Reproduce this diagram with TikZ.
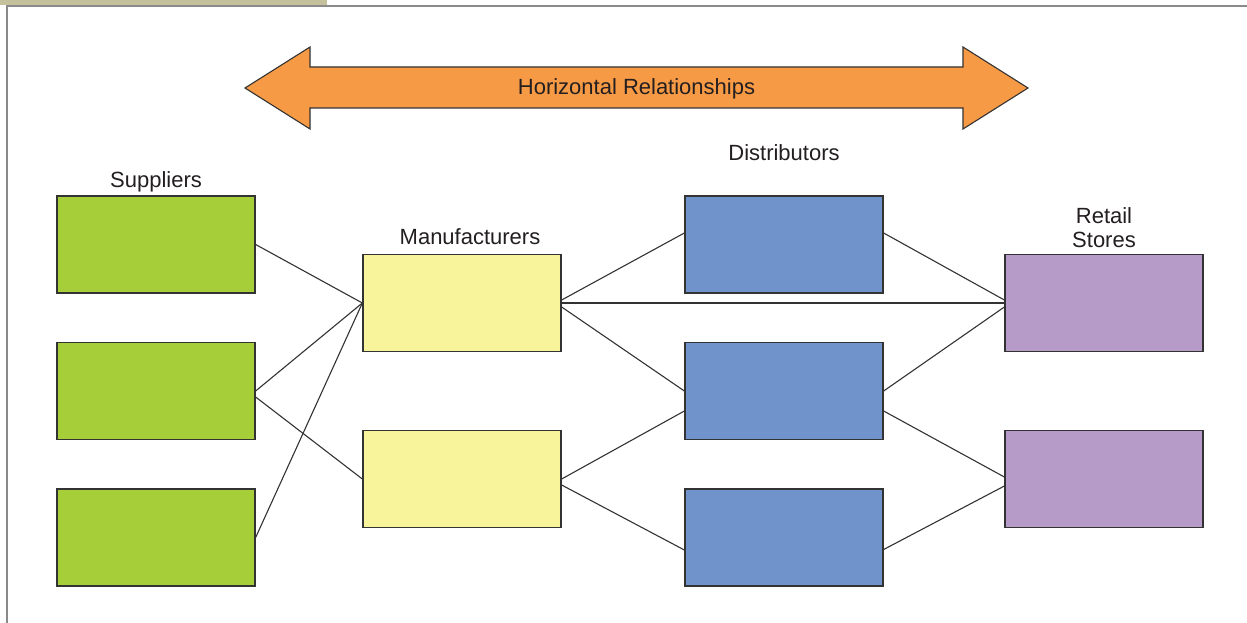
\documentclass[tikz,border=0pt]{standalone}
\usepackage{fontspec}
\setmainfont{Liberation Sans}
\usetikzlibrary{calc}
\definecolor{supgreen}{HTML}{A6CE39}
\definecolor{manyellow}{HTML}{F7F49C}
\definecolor{disblue}{HTML}{7093CB}
\definecolor{retpurple}{HTML}{B69AC8}
\definecolor{arroworange}{HTML}{F79A45}
\definecolor{tanbar}{HTML}{C5C19D}
\definecolor{framegray}{HTML}{8A8A8A}
\definecolor{inkgray}{HTML}{231F20}
\definecolor{edgegray}{HTML}{333333}
\tikzset{
  box/.style={draw=edgegray, line width=1.3pt, minimum width=198pt, minimum height=97pt, inner sep=0pt},
  sup/.style={box, fill=supgreen},
  man/.style={box, fill=manyellow},
  dis/.style={box, fill=disblue},
  ret/.style={box, fill=retpurple},
  lbl/.style={font=\fontsize{22}{26}\selectfont, text=inkgray, anchor=base, inner sep=0pt},
  link/.style={draw=edgegray, line width=1.1pt}
}
\begin{document}
\begin{tikzpicture}[x=1pt,y=-1pt]
\useasboundingbox (0,0) rectangle (1247,623);
\fill[white] (0,0) rectangle (1247,623);
% frame
\fill[tanbar] (0,0) rectangle (327,5);
\draw[framegray, line width=1.5pt] (7,623) -- (7,6) -- (1247,6);
% arrow
\draw[fill=arroworange, draw=edgegray, line width=1.1pt, line join=miter]
  (245,88) -- (310,47) -- (310,67) -- (963,67) -- (963,47) -- (1028,88)
  -- (963,129) -- (963,108) -- (310,108) -- (310,129) -- cycle;
\node[lbl] (hr) at (636.5,95) {Horizontal Relationships};
% boxes
\node[sup] (s1) at (156,244.5) {};
\node[sup] (s2) at (156,391) {};
\node[sup] (s3) at (156,537.5) {};
\node[man] (m1) at (462,303) {};
\node[man] (m2) at (462,479) {};
\node[dis] (d1) at (784,244.5) {};
\node[dis] (d2) at (784,391) {};
\node[dis] (d3) at (784,537.5) {};
\node[ret] (r1) at (1104,303) {};
\node[ret] (r2) at (1104,479) {};
% labels
\node[lbl] (lsup) at (156,187) {Suppliers};
\node[lbl] (lman) at (470,244.5) {Manufacturers};
\node[lbl] (ldis) at (784,160.5) {Distributors};
\node[lbl] (lret1) at (1104,223) {Retail};
\node[lbl] (lret2) at (1104,247.5) {Stores};
% connectors
\draw[link] (s1.east) -- (m1.west);
\draw[link] (s2.east) -- (m1.west);
\draw[link] ($(s2.east)+(0,6)$) -- (m2.west);
\draw[link] (s3.east) -- (m1.west);
\draw[link] ($(m1.east)+(0,-3)$) -- ($(d1.west)+(0,-11.5)$);
\draw[link] (m1.east) -- (r1.west);
\draw[link] ($(m1.east)+(0,4)$) -- (d2.west);
\draw[link] (m2.east) -- ($(d2.west)+(0,20)$);
\draw[link] ($(m2.east)+(0,6)$) -- ($(d3.west)+(0,12.5)$);
\draw[link] ($(d1.east)+(0,-11.5)$) -- ($(r1.west)+(0,-3)$);
\draw[link] (d2.east) -- ($(r1.west)+(0,4)$);
\draw[link] ($(d2.east)+(0,20)$) -- ($(r2.west)+(0,-2)$);
\draw[link] ($(d3.east)+(0,12)$) -- ($(r2.west)+(0,7)$);
% redraw boxes over link ends
\end{tikzpicture}
\end{document}
